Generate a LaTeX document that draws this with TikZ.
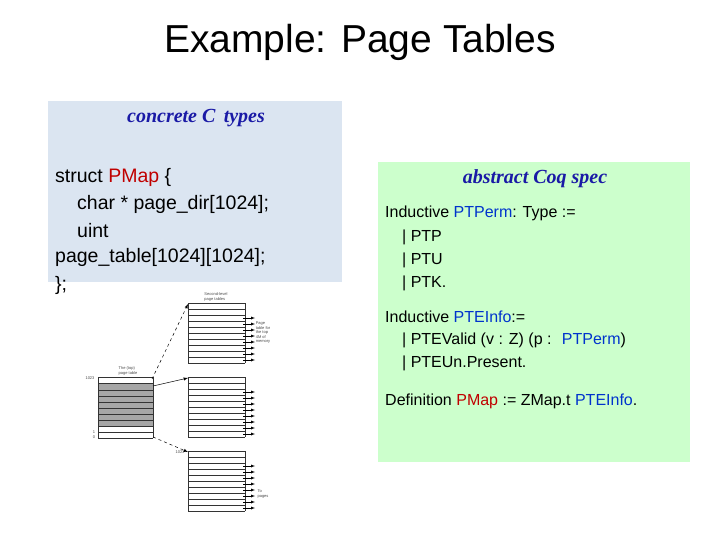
\documentclass[tikz,border=0pt]{standalone}
\usepackage{fontspec}
\setmainfont{Liberation Sans}
\newfontfamily\titleserif{Liberation Serif}
\definecolor{boxblue}{HTML}{DBE5F1}
\definecolor{boxgreen}{HTML}{CCFFCC}
\definecolor{hdblue}{HTML}{1A1AA6}
\definecolor{kwred}{HTML}{C00000}
\definecolor{kwblue}{HTML}{0033CC}
\begin{document}
\begin{tikzpicture}[x=1pt,y=-1pt,
  txt/.style={anchor=west,inner sep=0pt,font=\fontsize{19.5}{22}\selectfont},
  ctxt/.style={anchor=west,inner sep=0pt,font=\fontsize{16}{19}\selectfont},
  hd/.style={inner sep=0pt,text=hdblue,font=\titleserif\bfseries\itshape\fontsize{20}{23}\selectfont},
  tiny/.style={inner sep=0pt,font=\fontsize{4}{4.5}\selectfont,text=black!70,align=left},
  row/.style={black!80,line width=0.5pt},
  ptr/.style={-latex,line width=0.5pt},
  dptr/.style={-latex,dashed,line width=0.5pt}]
\useasboundingbox (0,0) rectangle (720,540);
\fill[white] (0,0) rectangle (720,540);
\node (title) at (360,42) {\fontsize{39}{44}\selectfont Example: Page Tables};
% blue box
\fill[boxblue] (48,101) rectangle (342,282);
\node[hd] (ch) at (196,118) {concrete C\, types};
\node[txt] (c1) at (55,177) {struct \textcolor{kwred}{PMap} \{};
\node[txt] (c2) at (77,204) {char * page\_dir[1024];};
\node[txt] (c3) at (77,231) {uint};
\node[txt] (c4) at (55,257) {page\_table[1024][1024];};
\node[txt] (c5) at (55,285) {\};};
% green box
\fill[boxgreen] (378,162) rectangle (690,462);
\node[hd] (ah) at (535,179) {abstract Coq spec};
\node[ctxt] (a1) at (385,213) {Inductive \textcolor{kwblue}{PTPerm}: Type :=};
\node[ctxt] (a2) at (402,237) {| PTP};
\node[ctxt] (a3) at (402,260) {| PTU};
\node[ctxt] (a4) at (402,283) {| PTK.};
\node[ctxt] (a5) at (385,317) {Inductive \textcolor{kwblue}{PTEInfo}:=};
\node[ctxt] (a6) at (402,340) {| PTEValid (v : Z) (p :\; \textcolor{kwblue}{PTPerm})};
\node[ctxt] (a7) at (402,363) {| PTEUn.Present.};
\node[ctxt] (a8) at (385,401) {Definition \textcolor{kwred}{PMap} := ZMap.t \textcolor{kwblue}{PTEInfo}.};
% page table figure
\fill[black!35] (98,383) rectangle (153,426);
\foreach \y in {377,383,390,396,402,408,414,420,426,432,438} \draw[row] (98,\y) -- (153,\y);
\draw[row] (98,377) -- (98,438) (153,377) -- (153,438);
\node[tiny] (tl) at (128,371) {The (top)\\page table};
\node[tiny] (n1) at (90,378) {1023};
\node[tiny] (n2) at (94,432) {1};
\node[tiny] (n3) at (94,437) {0};
\coordinate (p1) at (152,379);
\coordinate (p2) at (153,386);
\coordinate (p3) at (153,437);
% second-level tables
\foreach \t/\top in {a/303,b/377,c/451}{
  \foreach \i in {0,...,10} \draw[row] (188,\top+\i*6) -- (245,\top+\i*6);
  \draw[row] (188,\top) -- (188,\top+60) (245,\top) -- (245,\top+60);
  \foreach \i in {2,...,9} \draw[-latex,line width=0.4pt] (243,\top+\i*6+3) -- (255,\top+\i*6+3);
  \coordinate (\t) at (188,\top+1);
}
\node[tiny] (sl) at (216,297) {Second-level\\page tables};
\node[tiny] (ptl) at (263,333) {Page\\table for\\the top\\4M of\\memory};
\node[tiny] (tp) at (263,494) {To\\pages};
\node[tiny] (m1) at (180,452) {1023};
\draw[dptr] (p1) -- (a);
\draw[ptr] (p2) -- (b);
\draw[dptr] (p3) -- (c);
\end{tikzpicture}
\end{document}
